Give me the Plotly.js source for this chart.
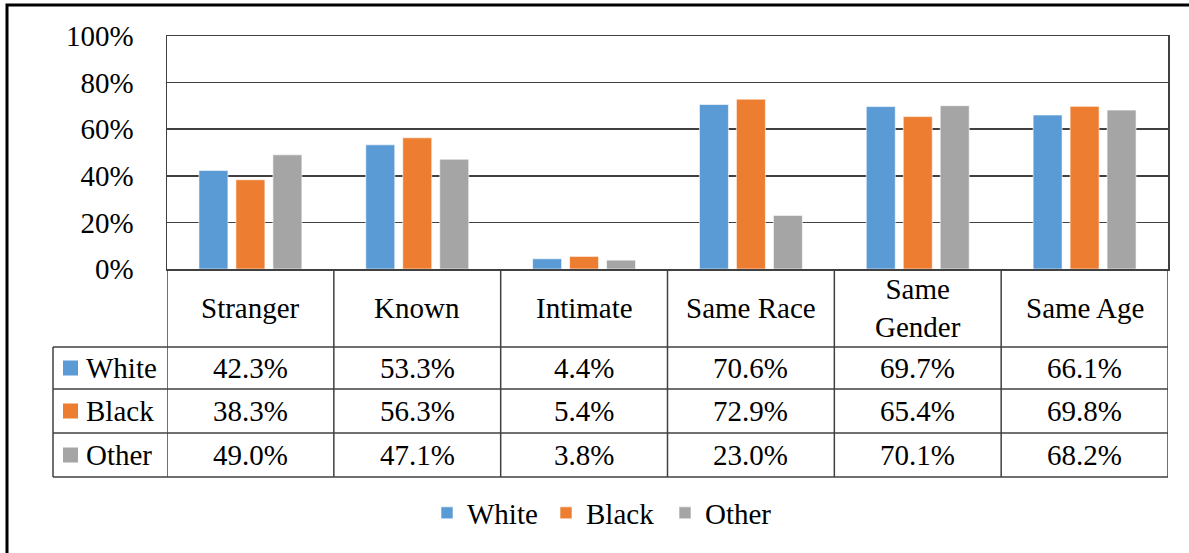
<!DOCTYPE html>
<html>
<head>
<meta charset="utf-8">
<script src="https://cdn.plot.ly/plotly-3.0.1.min.js"></script>
<style>html,body{margin:0;padding:0;background:#fff;}#chart{width:1189px;height:553px;}</style>
</head>
<body>
<div id="chart"></div>
<script>
const categories = ['Stranger', 'Known', 'Intimate', 'Same Race', 'Same<br>Gender', 'Same Age'];
const seriesNames = ['White', 'Black', 'Other'];
const white = [42.3, 53.3, 4.4, 70.6, 69.7, 66.1];
const black = [38.3, 56.3, 5.4, 72.9, 65.4, 69.8];
const other = [49.0, 47.1, 3.8, 23.0, 70.1, 68.2];
const yTicks = [0, 20, 40, 60, 80, 100];
const colors = ['#5B9BD5', '#ED7D31', '#A5A5A5'];

const series = [white, black, other];
const FONT = 'Liberation Serif, Times New Roman, serif';
const FS = 29;
const LINE = '#404040';

// pixel -> paper helpers (plot area: x 167..1168, y 36..477)
const L = 167, R = 21, T = 36, B = 76, W = 1189, H = 553;
const PW = W - L - R, PH = H - T - B;
const px = p => (p - L) / PW;
const py = p => (H - B - p) / PH;

const idx = categories.map((c, i) => i);

const traces = series.map((vals, s) => ({
  type: 'bar',
  name: seriesNames[s],
  x: idx,
  y: vals,
  marker: {color: colors[s], line: {color: 'rgba(255,255,255,0.6)', width: 1}},
  hoverinfo: 'skip'
}));

const rowTops = [347, 389, 433];
const rowBottoms = [389, 433, 477];
const shapes = [];
const annotations = [];

// outer frame
shapes.push({type: 'rect', xref: 'paper', yref: 'paper', x0: px(7), x1: px(1210), y0: py(5), y1: py(580),
  line: {color: '#000', width: 3}, fillcolor: 'rgba(0,0,0,0)', layer: 'above'});

// horizontal table lines
[347, 389, 433, 477].forEach(p => {
  shapes.push({type: 'line', xref: 'paper', yref: 'paper', x0: px(53), x1: px(1168), y0: py(p), y1: py(p),
    line: {color: LINE, width: 1.5}});
});
// vertical lines at category boundaries
for (let k = 0; k <= categories.length; k++) {
  shapes.push({type: 'line', xref: 'x', yref: 'paper', x0: k - 0.5, x1: k - 0.5, y0: py(269), y1: py(477),
    line: {color: LINE, width: 1.5}});
}
// left edge of legend-key column
shapes.push({type: 'line', xref: 'paper', yref: 'paper', x0: px(53), x1: px(53), y0: py(347), y1: py(477),
  line: {color: LINE, width: 1.5}});

// category labels row
categories.forEach((c, i) => {
  annotations.push({xref: 'x', yref: 'paper', x: i, y: py(308), text: c, showarrow: false,
    xanchor: 'center', yanchor: 'middle', font: {family: FONT, size: FS, color: '#000'}});
});

// series rows
series.forEach((vals, s) => {
  const mid = (rowTops[s] + rowBottoms[s]) / 2;
  shapes.push({type: 'rect', xref: 'paper', yref: 'paper', x0: px(63), x1: px(78), y0: py(mid - 7.5), y1: py(mid + 7.5),
    line: {width: 0}, fillcolor: colors[s]});
  annotations.push({xref: 'paper', yref: 'paper', x: px(84), y: py(mid), text: seriesNames[s], showarrow: false,
    xanchor: 'left', yanchor: 'middle', font: {family: FONT, size: FS, color: '#000'}});
  vals.forEach((v, i) => {
    annotations.push({xref: 'x', yref: 'paper', x: i, y: py(mid), text: v.toFixed(1) + '%', showarrow: false,
      xanchor: 'center', yanchor: 'middle', font: {family: FONT, size: FS, color: '#000'}});
  });
});

const layout = {
  width: W, height: H,
  margin: {l: L, r: R, t: T, b: B, pad: 0},
  paper_bgcolor: '#fff', plot_bgcolor: '#fff',
  font: {family: FONT, size: FS, color: '#000'},
  barmode: 'group',
  bargap: 0.335,
  bargroupgap: 0.216,
  showlegend: true,
  legend: {orientation: 'h', x: px(427), y: py(513), xanchor: 'left', yanchor: 'middle',
    entrywidth: 74, entrywidthmode: 'pixels',
    font: {family: FONT, size: FS, color: '#000'}, bgcolor: 'rgba(0,0,0,0)'},
  xaxis: {
    range: [-0.5, categories.length - 0.5],
    showticklabels: false, ticks: '', showgrid: false, zeroline: false,
    showline: true, mirror: true, linecolor: LINE, linewidth: 1.5, fixedrange: true
  },
  yaxis: {
    domain: [py(269), 1],
    range: [0, 100],
    tickvals: yTicks, ticktext: yTicks.map(v => v + '%'),
    ticks: 'outside', ticklen: 26, tickcolor: 'rgba(0,0,0,0)',
    tickfont: {family: FONT, size: FS, color: '#000'},
    showgrid: true, gridcolor: LINE, gridwidth: 1.5, zeroline: false,
    showline: true, mirror: true, linecolor: LINE, linewidth: 1.5, fixedrange: true
  },
  shapes: shapes,
  annotations: annotations
};

Plotly.newPlot('chart', traces, layout, {displayModeBar: false, staticPlot: true});
</script>
</body>
</html>
